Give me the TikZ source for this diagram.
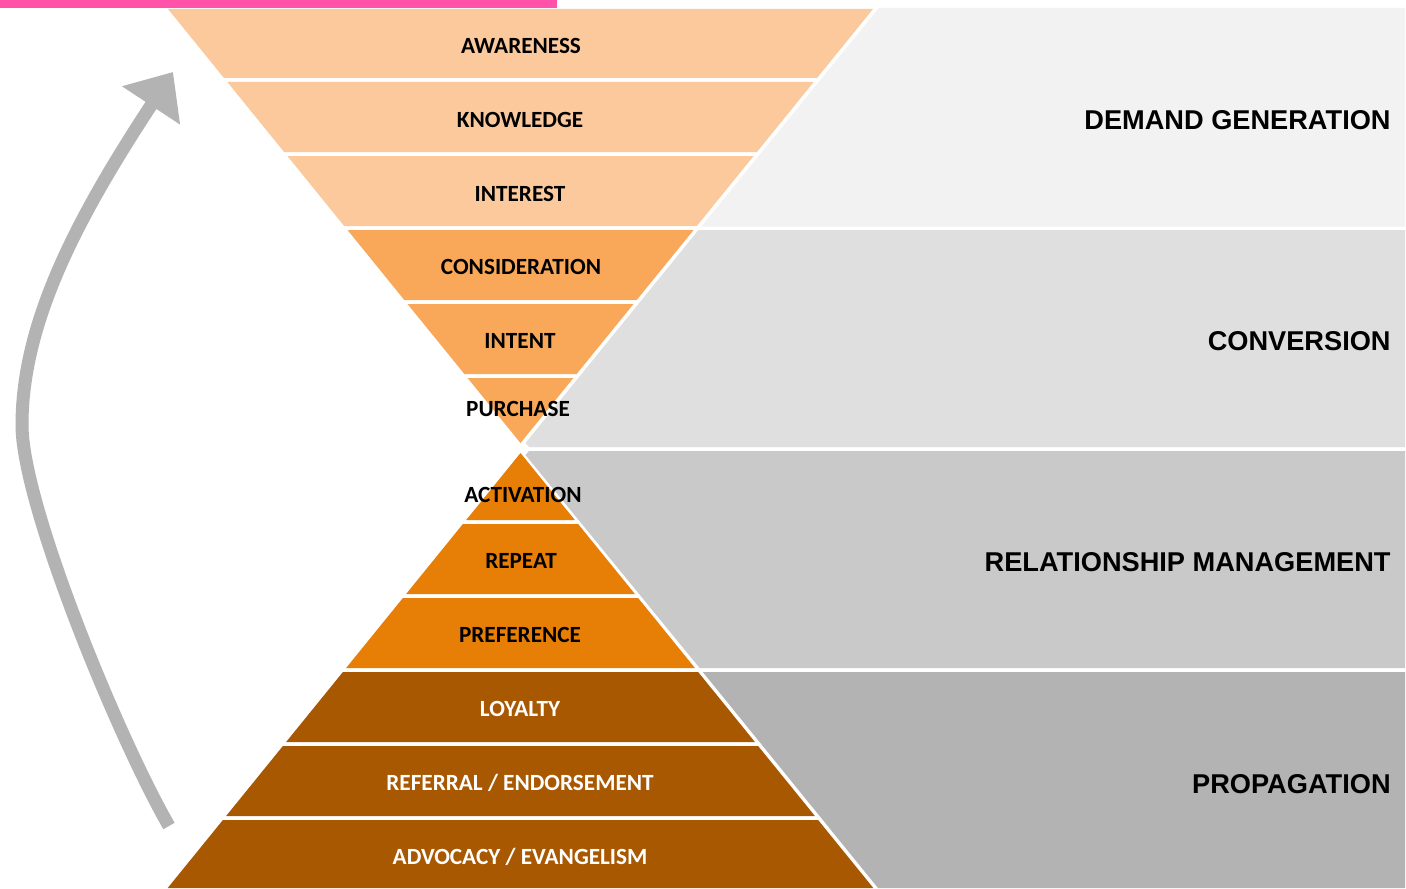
\documentclass[tikz,border=0pt]{standalone}
\usepackage{fontspec}
\setmainfont{Carlito}
\newfontfamily\arialfont{Liberation Sans}
\usetikzlibrary{arrows.meta}
\definecolor{pinkbar}{HTML}{FF52A8}
\definecolor{peach}{HTML}{FBC99B}
\definecolor{midorange}{HTML}{F8A858}
\definecolor{deeporange}{HTML}{E77E06}
\definecolor{brownish}{HTML}{A85800}
\definecolor{grayA}{HTML}{F2F2F2}
\definecolor{grayB}{HTML}{DFDFDF}
\definecolor{grayC}{HTML}{C9C9C9}
\definecolor{grayD}{HTML}{B3B3B3}
\definecolor{arrowgray}{HTML}{B3B3B3}
\begin{document}
\begin{tikzpicture}[x=0.5pt,y=-0.5pt,
  stagelabel/.style={font=\fontsize{11.6}{13}\selectfont\bfseries, text=black, inner sep=0pt, anchor=base},
  stagelabelw/.style={stagelabel, text=white},
  phaselabel/.style={font=\arialfont\fontsize{13.6}{16}\selectfont\bfseries, text=black, anchor=base east, inner sep=0pt},
  bigarrow/.style={draw=arrowgray, line width=6.5pt, -{Triangle[length=20pt,width=33.5pt]}}
]
\useasboundingbox (0,0) rectangle (1406,888);
\fill[white] (0,0) rectangle (1406,888);
% pink bar
\fill[pinkbar] (0,0) rectangle (557,8.5);
% gray panels
\fill[grayA] (878.8,8) -- (1405,8) -- (1405,226.5) -- (701.4,226.5) -- cycle;
\fill[grayB] (698.5,230) -- (1405,230) -- (1405,447) -- (529,447) -- (525.5,443) -- cycle;
\fill[grayC] (525.5,455) -- (529,451) -- (1405,451) -- (1405,668) -- (699.6,668) -- cycle;
\fill[grayD] (702.8,672) -- (1405,672) -- (1405,888) -- (878,888) -- cycle;
% top funnel
\fill[peach] (168,9) -- (873,9) -- (817,78) -- (224,78) -- cycle;
\fill[peach] (227.3,82) -- (813.7,82) -- (756.9,152) -- (284.1,152) -- cycle;
\fill[peach] (287.4,156) -- (753.6,156) -- (696.8,226) -- (344.2,226) -- cycle;
\fill[midorange] (347.5,230) -- (693.6,230) -- (636.7,300) -- (404.3,300) -- cycle;
\fill[midorange] (407.5,304) -- (633.5,304) -- (576.6,374) -- (464.4,374) -- cycle;
\fill[midorange] (467.6,378) -- (573.4,378) -- (520.5,443) -- cycle;
% bottom funnel
\fill[deeporange] (520.5,453) -- (574.8,520) -- (466.2,520) -- cycle;
\fill[deeporange] (462.9,524) -- (578.1,524) -- (634.9,594) -- (406.1,594) -- cycle;
\fill[deeporange] (402.9,598) -- (638.1,598) -- (694.9,668) -- (346.1,668) -- cycle;
\fill[brownish] (342.9,672) -- (698.1,672) -- (754.9,742) -- (286.1,742) -- cycle;
\fill[brownish] (282.9,746) -- (758.1,746) -- (814.9,816) -- (226.1,816) -- cycle;
\fill[brownish] (222.9,820) -- (818.1,820) -- (873.3,888) -- (167.7,888) -- cycle;
% stage labels
\node[stagelabel] (l1) at (521,53.5) {AWARENESS};
\node[stagelabel] (l2) at (520,127.5) {KNOWLEDGE};
\node[stagelabel] (l3) at (520,201.5) {INTEREST};
\node[stagelabel] (l4) at (521,274.5) {CONSIDERATION};
\node[stagelabel] (l5) at (520,348.5) {INTENT};
\node[stagelabel] (l6) at (518,416.5) {PURCHASE};
\node[stagelabel] (l7) at (523,502.5) {ACTIVATION};
\node[stagelabel] (l8) at (521,568.5) {REPEAT};
\node[stagelabel] (l9) at (520,642.5) {PREFERENCE};
\node[stagelabelw] (l10) at (520,716.5) {LOYALTY};
\node[stagelabelw] (l11) at (520,790.5) {REFERRAL / ENDORSEMENT};
\node[stagelabelw] (l12) at (520,864.5) {ADVOCACY / EVANGELISM};
% phase labels
\node[phaselabel] (p1) at (1391,129) {DEMAND GENERATION};
\node[phaselabel] (p2) at (1391,350) {CONVERSION};
\node[phaselabel] (p3) at (1391,571.5) {RELATIONSHIP MANAGEMENT};
\node[phaselabel] (p4) at (1391,793) {PROPAGATION};
% curved arrow
\coordinate (abot) at (169,826);
\coordinate (amid) at (22,425);
\coordinate (atip) at (173,72);
\draw[bigarrow] (abot) .. controls (119,739.4) and (22,505) .. (amid)
  .. controls (22,325) and (74,222.3) .. (atip);
\end{tikzpicture}
\end{document}
